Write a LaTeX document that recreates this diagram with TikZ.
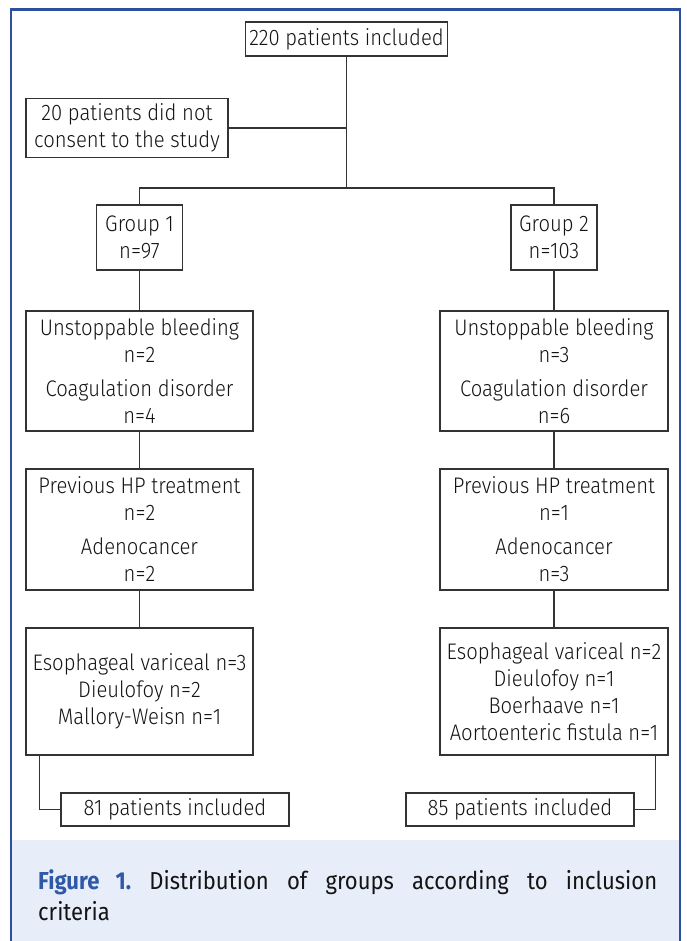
\documentclass[tikz,border=0pt]{standalone}
\usepackage{fontspec}
\setmainfont{Fira Sans}[FakeStretch=0.9, UprightFont=* Light, BoldFont=* Medium]
\newfontfamily\capfont{Fira Sans}[FakeStretch=0.9]
\usetikzlibrary{positioning,calc}
\definecolor{Frame}{HTML}{2D4F9E}
\definecolor{FigBlue}{HTML}{2F58A6}
\definecolor{CapBg}{HTML}{E7EEF9}
\definecolor{Ink}{HTML}{141414}
\definecolor{Edge}{HTML}{333333}

\begin{document}
\frenchspacing
\begin{tikzpicture}[x=1pt, y=-1pt,
  box/.style={draw=Edge, line width=1.1pt, align=center, inner sep=0pt, text=Ink, font=\fontsize{22.5}{27}\selectfont},
  link/.style={draw=Edge, line width=1.1pt} ]

\useasboundingbox (0,0) rectangle (686,941);
\fill[CapBg] (11,840) rectangle (680,941);
\draw[Frame, line width=2.5pt] (11,941) -- (11,9.5) -- (680,9.5) -- (680,941);

\node[box, minimum width=202pt, minimum height=34pt] (t) at (346.5,39) {220 patients included};
\node[box, minimum width=202pt, minimum height=59pt] (nc) at (127,128) {20 patients did not\\consent to the study};

\node[box, minimum width=86pt, minimum height=65pt] (g1) at (139.5,237.5) {Group 1\\n=97};
\node[box, minimum width=86pt, minimum height=65pt] (g2) at (554,237.5) {Group 2\\n=103};

\node[box, minimum width=227pt, minimum height=120pt] (a1) at (139.5,371) {Unstoppable bleeding\\n=2\\[7pt]Coagulation disorder\\n=4};
\node[box, minimum width=228pt, minimum height=120pt] (a2) at (554,371) {Unstoppable bleeding\\n=3\\[7pt]Coagulation disorder\\n=6};

\node[box, minimum width=227pt, minimum height=121pt] (b1) at (139.5,529.5) {Previous HP treatment\\n=2\\[7pt]Adenocancer\\n=2};
\node[box, minimum width=228pt, minimum height=121pt] (b2) at (554,529.5) {Previous HP treatment\\n=1\\[7pt]Adenocancer\\n=3};

\node[box, minimum width=227pt, minimum height=127pt] (c1) at (139.5,691.5) {Esophageal variceal n=3\\Dieulofoy n=2\\Mallory-Weisn n=1};
\node[box, minimum width=228pt, minimum height=127pt] (c2) at (554,691.5) {Esophageal variceal n=2\\Dieulofoy n=1\\Boerhaave n=1\\Aortoenteric fistula n=1};

\node[box, minimum width=228pt, minimum height=33pt] (f1) at (175,809.5) {81 patients included};
\node[box, minimum width=228pt, minimum height=33pt] (f2) at (520,809.5) {85 patients included};

\coordinate (busy) at (0,188);
\draw[link] (t) -- (t.south |- busy);
\draw[link] (nc) -- (nc -| t);
\draw[link] (g1) |- (t.south |- busy) -| (g2);
\draw[link] (g1) -- (a1);
\draw[link] (a1) -- (b1);
\draw[link] (b1) -- (c1);
\draw[link] (g2) -- (a2);
\draw[link] (a2) -- (b2);
\draw[link] (b2) -- (c2);
\draw[link] ([xshift=14pt]c1.south west) |- (f1);
\draw[link] ([xshift=-13pt]c2.south east) |- (f2);

\node[anchor=north west, inner sep=0pt, text width=619pt, align=justify, text=Ink, font=\capfont\fontsize{24.5}{31}\selectfont] (cap) at (38,869.5) {\textcolor{FigBlue}{\bfseries Figure 1.} Distribution of groups according to inclusion\linebreak criteria};

\end{tikzpicture}
\end{document}
